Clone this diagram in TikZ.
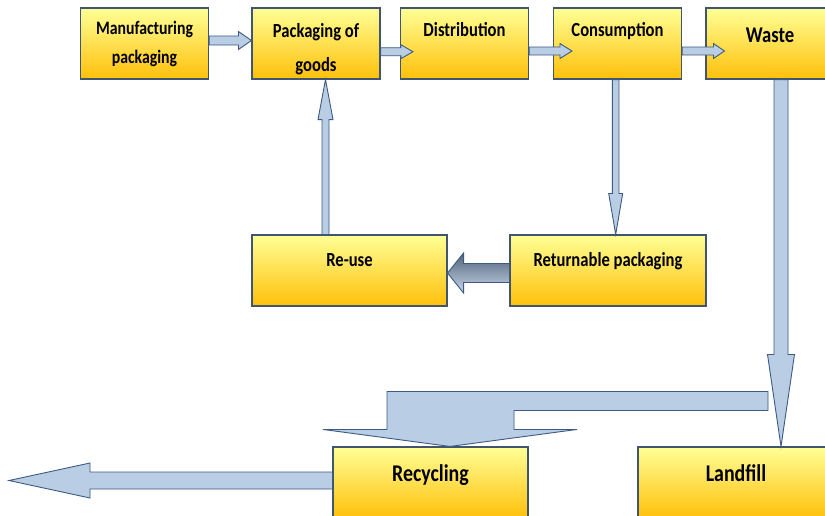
\documentclass[tikz,border=0pt]{standalone}
\usepackage{fontspec}
\setmainfont{Carlito}[FakeStretch=0.83]
\usepackage{tikz}
\usetikzlibrary{calc}
\definecolor{boxtop}{RGB}{255,255,150}
\definecolor{boxbot}{RGB}{255,192,10}
\definecolor{boxline}{RGB}{65,85,110}
\definecolor{arrowfill}{RGB}{185,205,228}
\definecolor{arrowline}{RGB}{60,90,130}
\definecolor{shadedark}{RGB}{80,98,122}
\definecolor{shadelight}{RGB}{200,214,232}
\tikzset{
  box/.style={draw=boxline, line width=1.1pt, top color=boxtop, bottom color=boxbot,
    inner sep=0pt, minimum height=71pt, minimum width=#1, align=center},
  box/.default=128pt,
  lift/.style={text height=14pt, text depth=#1},
  arrowbody/.style={draw=arrowline, fill=arrowfill, line width=0.9pt, line join=miter},
  txt/.style={font=\bfseries\fontsize{20}{24}\selectfont},
}
\newcommand{\flowarrow}[6][]{%
  \coordinate (fa-h) at ($(#3)!#6!(#2)$);
  \draw[arrowbody,#1] ($(#2)!#4!90:(#3)$) -- ($(fa-h)!#4!90:(#3)$) -- ($(fa-h)!#5!90:(#3)$)
    -- (#3) -- ($(fa-h)!#5!-90:(#3)$) -- ($(fa-h)!#4!-90:(#3)$) -- ($(#2)!#4!-90:(#3)$) -- cycle;}

\begin{document}
\begin{tikzpicture}[x=1pt, y=-1pt]
  \clip (0,0) rectangle (825,515);

  \node[box, font=\bfseries\fontsize{19}{29}\selectfont] (man) at (144.5,43.5) {Manufacturing\\packaging};
  \node[box, font=\bfseries\fontsize{20}{34}\selectfont] (pack) at (316,43.5) {\rule{0pt}{25.4pt}Packaging of\\goods};
  \node[box, txt, lift=27.6pt] (dist) at (464.5,43.5) {Distribution};
  \node[box, txt, lift=27.6pt] (cons) at (617.5,43.5) {Consumption};
  \node[box, font=\bfseries\fontsize{22.5}{27}\selectfont, lift=16.4pt] (waste) at (770,43.5) {Waste};
  \node[box=195pt, txt, lift=21.6pt] (reuse) at (349.5,270.5) {Re-use};
  \node[box=196pt, txt, lift=21.6pt] (ret) at (608,270.5) {Returnable packaging};
  \node[box=195pt, font=\bfseries\fontsize{24}{29}\selectfont, lift=15.6pt] (rec) at (430.5,482.5) {Recycling};
  \node[box=196pt, font=\bfseries\fontsize{24}{29}\selectfont, lift=15.6pt] (land) at (736,482.5) {Landfill};
  \coordinate (out) at (9,480.5);

  \flowarrow{[yshift=3pt]man.east}{[yshift=3pt]pack.west}{4.5pt}{9pt}{13pt}
  \flowarrow{[yshift=-8.2pt]pack.east}{[xshift=13pt,yshift=-8.2pt]dist.west}{4pt}{7pt}{12pt}
  \flowarrow{[yshift=-7.5pt]dist.east}{[xshift=19pt,yshift=-7.5pt]cons.west}{4pt}{7.5pt}{12pt}
  \flowarrow{[yshift=-7.5pt]cons.east}{[xshift=19pt,yshift=-7.5pt]waste.west}{4pt}{7.5pt}{11pt}
  \flowarrow{[xshift=-1.8pt]cons.south}{[xshift=7.7pt]ret.north}{3.3pt}{7pt}{41pt}
  \flowarrow{[xshift=-24pt]reuse.north}{[xshift=9.5pt]pack.south}{3.5pt}{7.5pt}{40pt}
  \flowarrow[top color=shadedark, bottom color=shadelight]{[yshift=-2.5pt]ret.west}{[yshift=-2.5pt]reuse.east}{9.5pt}{20pt}{16pt}
  \flowarrow{[xshift=11pt]waste.south}{[xshift=45pt]land.north}{7pt}{13.5pt}{92pt}
  \flowarrow{[yshift=2pt]rec.west}{out}{8.5pt}{17.5pt}{81pt}

  \draw[arrowbody] ([xshift=19.5pt]rec.north) -- ++(127,-17) -- ++(-63,0) -- ++(0,-19) -- ++(254,0)
    -- ++(0,-19) -- ++(-381,0) -- ++(0,38) -- ++(-64,0) -- cycle;
\end{tikzpicture}
\end{document}
